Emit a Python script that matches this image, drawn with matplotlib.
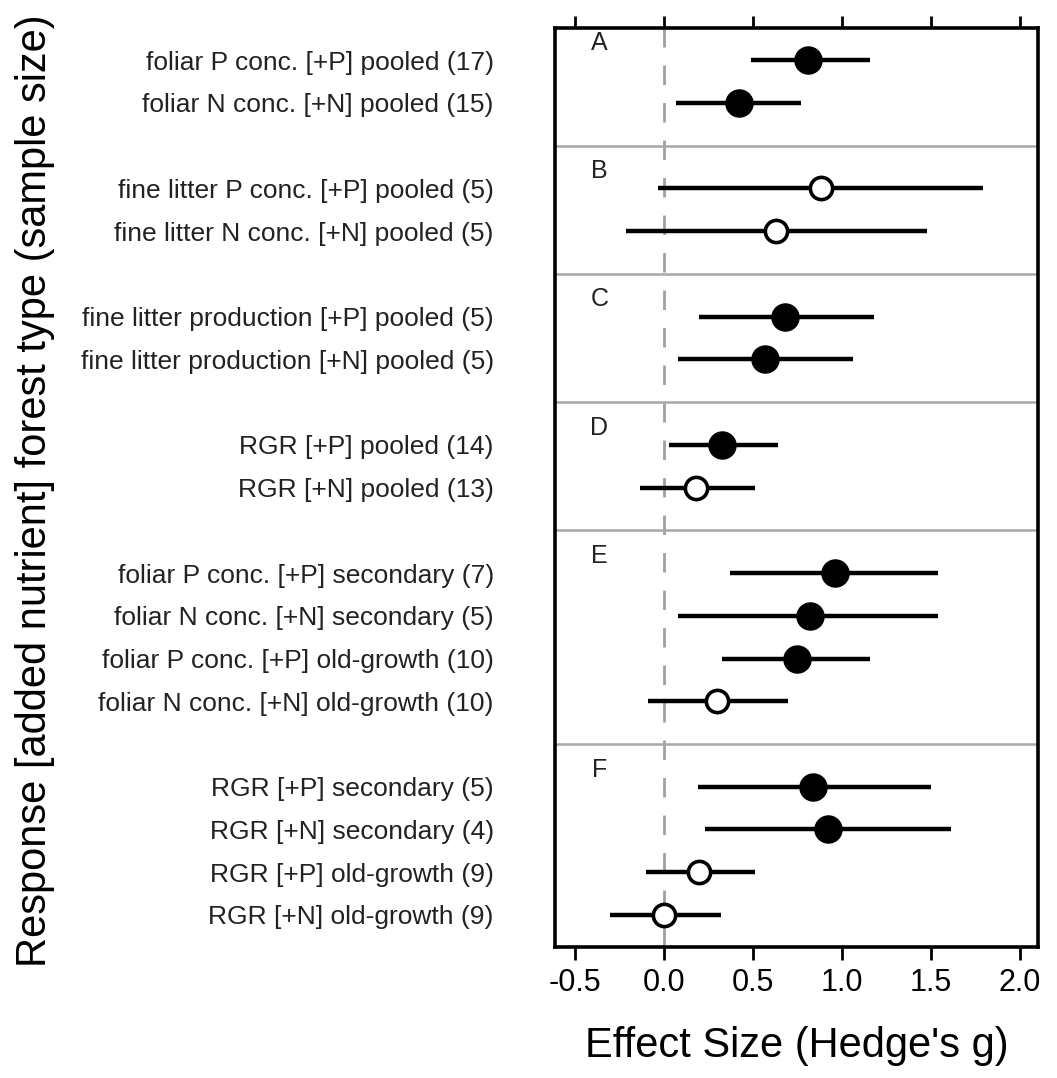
import numpy as np
import matplotlib.pyplot as plt

plt.rcParams['font.family'] = ['Liberation Sans', 'DejaVu Sans']

# row labels, top to bottom
labels = [
    "foliar P conc. [+P] pooled (17)",
    "foliar N conc. [+N] pooled (15)",
    "fine litter P conc. [+P] pooled (5)",
    "fine litter N conc. [+N] pooled (5)",
    "fine litter production [+P] pooled (5)",
    "fine litter production [+N] pooled (5)",
    "RGR [+P] pooled (14)",
    "RGR [+N] pooled (13)",
    "foliar P conc. [+P] secondary (7)",
    "foliar N conc. [+N] secondary (5)",
    "foliar P conc. [+P] old-growth (10)",
    "foliar N conc. [+N] old-growth (10)",
    "RGR [+P] secondary (5)",
    "RGR [+N] secondary (4)",
    "RGR [+P] old-growth (9)",
    "RGR [+N] old-growth (9)",
]
# effect sizes and 95% CI
effect = [0.81, 0.42, 0.88, 0.63, 0.68, 0.57, 0.33, 0.18,
          0.96, 0.82, 0.75, 0.30, 0.84, 0.92, 0.20, 0.00]
ci_low = [0.49, 0.07, -0.03, -0.21, 0.20, 0.08, 0.03, -0.13,
          0.37, 0.08, 0.33, -0.09, 0.19, 0.23, -0.10, -0.30]
ci_high = [1.16, 0.77, 1.79, 1.48, 1.18, 1.06, 0.64, 0.51,
           1.54, 1.54, 1.16, 0.70, 1.50, 1.61, 0.51, 0.32]
# significant -> filled marker
filled = [True, True, False, False, True, True, True, False,
          True, True, True, False, True, True, False, False]
# panels
panel_names = ["A", "B", "C", "D", "E", "F"]
panel_sizes = [2, 2, 2, 2, 4, 4]

# y positions: one unit per row, 2 units between panels
ypos = []
sep = []
y = 0
for i, n in enumerate(panel_sizes):
    for k in range(n):
        ypos.append(y)
        y += 1
    if i < len(panel_sizes) - 1:
        sep.append(y)
        y += 1
ypos = np.array(ypos)

fig = plt.figure(figsize=(10.57, 10.78), dpi=100)
ax = fig.add_axes([0.525, 0.1215, 0.457, 0.8525])

ax.axvline(0, color='#a0a0a0', lw=2, ls=(0, (7, 6.5)), zorder=1)
for s in sep:
    ax.axhline(s, color='#a8a8a8', lw=1.8, zorder=1)

for i in range(len(effect)):
    ax.plot([ci_low[i], ci_high[i]], [ypos[i], ypos[i]], color='black',
            lw=3.2, solid_capstyle='butt', zorder=2)
    if filled[i]:
        ax.plot(effect[i], ypos[i], 'o', ms=19.5, color='black', zorder=3)
    else:
        ax.plot(effect[i], ypos[i], 'o', ms=16, mfc='white', mec='black',
                mew=2.6, zorder=3)

# panel letters
start = 0
for name, n in zip(panel_names, panel_sizes):
    ax.text(-0.36, ypos[start] - 0.4, name, fontsize=18, ha='center',
            va='center', color='#222222')
    start += n

ax.set_xlim(-0.61, 2.10)
ax.set_ylim(ypos[-1] + 0.75, -0.75)
ax.set_xticks([-0.5, 0.0, 0.5, 1.0, 1.5, 2.0])
ax.set_xticklabels(['-0.5', '0.0', '0.5', '1.0', '1.5', '2.0'])
ax.set_yticks(ypos)
ax.set_yticklabels(labels, fontsize=19, color='#222222')
ax.tick_params(axis='y', length=0, pad=44)
ax.tick_params(axis='x', labelsize=22, length=9, width=2, pad=6,
               top=True, direction='out')
for sp in ax.spines.values():
    sp.set_linewidth(2.6)

ax.set_xlabel("Effect Size (Hedge's g)", fontsize=30, labelpad=20)
fig.text(0.033, 0.5445, "Response [added nutrient] forest type (sample size)",
         rotation=90, fontsize=30, ha='center', va='center')

fig.savefig('out.png', dpi=100)
